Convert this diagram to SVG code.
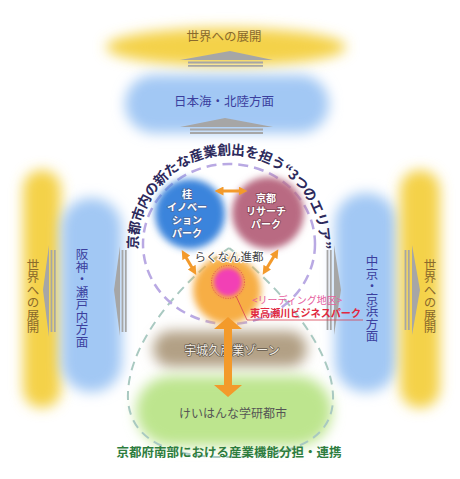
<svg xmlns="http://www.w3.org/2000/svg" width="460" height="479" viewBox="0 0 460 479">
<defs>
<style>
text{font-family:"Noto Sans CJK JP","Noto Sans",sans-serif;}
.yel{fill:#f4d24a;}
.blu{fill:#a2c8f4;}
.ytx{fill:#8a6a2c;font-size:12.5px;}
.btx{fill:#3b3f9e;font-size:12.5px;}
.vt{writing-mode:vertical-rl;text-anchor:middle;}
.arr{fill:#a6a6a6;}
.arl{stroke:#a6a6a6;stroke-width:1.8;fill:none;}
.ctx{fill:#ffffff;font-size:10px;font-weight:bold;text-anchor:middle;paint-order:stroke;stroke-width:1.8;stroke-linejoin:round;}
.or{stroke:#f39a2b;stroke-width:3;fill:none;}
</style>
<filter id="blur" x="-50%" y="-50%" width="200%" height="200%"><feGaussianBlur stdDeviation="6.5"/></filter>
<filter id="blur2" x="-50%" y="-50%" width="200%" height="200%"><feGaussianBlur stdDeviation="3.5"/></filter>
<filter id="blur1" x="-50%" y="-50%" width="200%" height="200%"><feGaussianBlur stdDeviation="2"/></filter>
<marker id="oh" viewBox="0 0 10 10" refX="5" refY="5" markerWidth="3" markerHeight="3" orient="auto-start-reverse"><path d="M0,0 L10,5 L0,10 Z" fill="#f39a2b"/></marker>
<path id="arc" d="M 138.1,250 A 91,91 0 1 1 319.9,250"/>
</defs>
<rect width="460" height="479" fill="#ffffff"/>

<!-- bands -->
<g id="top-world">
<ellipse class="yel" cx="226" cy="47" rx="120" ry="19" filter="url(#blur)"/>
<text class="ytx" x="224" y="41" text-anchor="middle">世界への展開</text>
</g>
<g id="north">
<rect class="blu" x="125" y="75" width="204" height="58" rx="29" filter="url(#blur)"/>
<text class="btx" x="224" y="106" text-anchor="middle">日本海・北陸方面</text>
</g>
<g id="left-world">
<rect class="yel" x="23" y="170" width="38" height="238" rx="19" filter="url(#blur)"/>
<text class="ytx vt" x="33" y="296">世界への展開</text>
</g>
<g id="left-west">
<rect class="blu" x="61" y="198" width="61" height="194" rx="30" filter="url(#blur)"/>
<text class="btx vt" x="82" y="298">阪神・瀬戸内方面</text>
</g>
<g id="right-east">
<rect class="blu" x="335" y="193" width="62" height="199" rx="30" filter="url(#blur)"/>
<text class="btx vt" x="372" y="299">中京・京浜方面</text>
</g>
<g id="right-world">
<rect class="yel" x="400" y="170" width="40" height="238" rx="20" filter="url(#blur)"/>
<text class="ytx vt" x="430" y="296">世界への展開</text>
</g>
<g id="ujiku">
<rect x="153" y="331" width="154" height="36" rx="18" fill="#b2a085" filter="url(#blur)"/>
<text x="232" y="355" text-anchor="middle" font-size="12" fill="#f2eee6" stroke="#62584c" stroke-width="1.4" paint-order="stroke" stroke-linejoin="round">宇城久産業ゾーン</text>
</g>
<g id="keihanna">
<rect x="136" y="376" width="196" height="70" rx="35" fill="#bde58e" filter="url(#blur)"/>
<text x="233" y="418" text-anchor="middle" font-size="12" fill="#555555">けいはんな学研都市</text>
</g>

<!-- connectors -->
<g id="connectors">
<polygon class="arr" points="230,51 273,60 180,60"/>
<line class="arl" x1="188" y1="62.5" x2="263" y2="62.5"/>
<line class="arl" x1="188" y1="65.8" x2="263" y2="65.8"/>
<polygon class="arr" points="225,118 273,127 180,127"/>
<line class="arl" x1="190" y1="129.5" x2="263" y2="129.5"/>
<line class="arl" x1="190" y1="133" x2="263" y2="133"/>
<polygon class="arr" points="43,290 49,245 49,337"/>
<line class="arl" x1="51.5" y1="250" x2="51.5" y2="332"/>
<line class="arl" x1="54.8" y1="250" x2="54.8" y2="332"/>
<polygon class="arr" points="114,290 120,246 120,336"/>
<line class="arl" x1="122.5" y1="250" x2="122.5" y2="332"/>
<line class="arl" x1="125.8" y1="250" x2="125.8" y2="332"/>
<polygon class="arr" points="341,290 334,245 334,335"/>
<line class="arl" x1="327.5" y1="250" x2="327.5" y2="330"/>
<line class="arl" x1="330.8" y1="250" x2="330.8" y2="330"/>
<polygon class="arr" points="420,290 412,245 412,335"/>
<line class="arl" x1="405.5" y1="250" x2="405.5" y2="330"/>
<line class="arl" x1="408.8" y1="250" x2="408.8" y2="330"/>
<path d="M 229,248 C 190,275 125,340 128,400 C 131,447 185,458 231,457 C 282,456 335,445 333,395 C 331,340 265,274 229,248 Z" fill="none" stroke="#a9c9c1" stroke-width="2" stroke-dasharray="9 6"/>
<ellipse cx="229" cy="244" rx="86" ry="80" fill="none" stroke="#b9a9e3" stroke-width="2.5" stroke-dasharray="10 6"/>
</g>

<g id="curved-title">
<text font-size="13.8" font-weight="bold" fill="#2d2a5c" text-anchor="middle"><textPath href="#arc" startOffset="50%" textLength="292" lengthAdjust="spacing">京都市内の新たな産業創出を担う“3つのエリア”</textPath></text>
</g>

<g id="katsura">
<circle cx="190" cy="214" r="35" fill="#3a84dc" filter="url(#blur2)"/>
<text class="ctx" stroke="#4d6ea8" x="187" y="198"><tspan x="187" y="198">桂</tspan><tspan x="187" y="211">イノベー</tspan><tspan x="187" y="224">ション</tspan><tspan x="187" y="237">パーク</tspan></text>
</g>
<g id="krp">
<circle cx="268" cy="213" r="36" fill="#b96a82" filter="url(#blur2)"/>
<text class="ctx" stroke="#8a4a5c" x="266" y="202"><tspan x="266" y="202">京都</tspan><tspan x="266" y="215">リサーチ</tspan><tspan x="266" y="228">パーク</tspan></text>
</g>
<g id="rakunan">
<circle cx="227" cy="290" r="34" fill="#f7ae45" filter="url(#blur2)"/>
<circle cx="228" cy="282" r="14" fill="#f23fb5" filter="url(#blur1)"/>
<circle cx="228" cy="282" r="16.5" fill="none" stroke="#d8434a" stroke-width="0.8" stroke-dasharray="1 1.5"/>
<text x="229" y="261" text-anchor="middle" font-size="11.5" fill="#444444" stroke="#ffffff" stroke-width="2" paint-order="stroke">らくなん進都</text>
</g>
<g id="higashi">
<polyline points="236,296 247,320 363,320" fill="none" stroke="#d84050" stroke-width="0.8"/>
<text x="252" y="304" font-size="10" fill="#e6609e">&lt;リーディング地区&gt;</text>
<text x="250" y="316.5" font-size="10.5" font-weight="bold" fill="#e02840" textLength="111" lengthAdjust="spacingAndGlyphs">東高瀬川ビジネスパーク</text>
</g>

<g id="orange-arrows">
<line class="or" x1="219" y1="191" x2="243" y2="191" marker-start="url(#oh)" marker-end="url(#oh)"/>
<line class="or" x1="184" y1="254" x2="194" y2="271" marker-start="url(#oh)" marker-end="url(#oh)"/>
<line class="or" x1="276" y1="253" x2="265" y2="271" marker-start="url(#oh)" marker-end="url(#oh)"/>
<polygon points="228,317 242,329 232,329 232,385 242,385 228,397 214,385 224,385 224,329 214,329" fill="#f39a2b"/>
</g>

<g id="footer">
<text x="229" y="457" text-anchor="middle" font-size="12.5" font-weight="bold" fill="#2e7d3e">京都府南部における産業機能分担・連携</text>
</g>
</svg>
